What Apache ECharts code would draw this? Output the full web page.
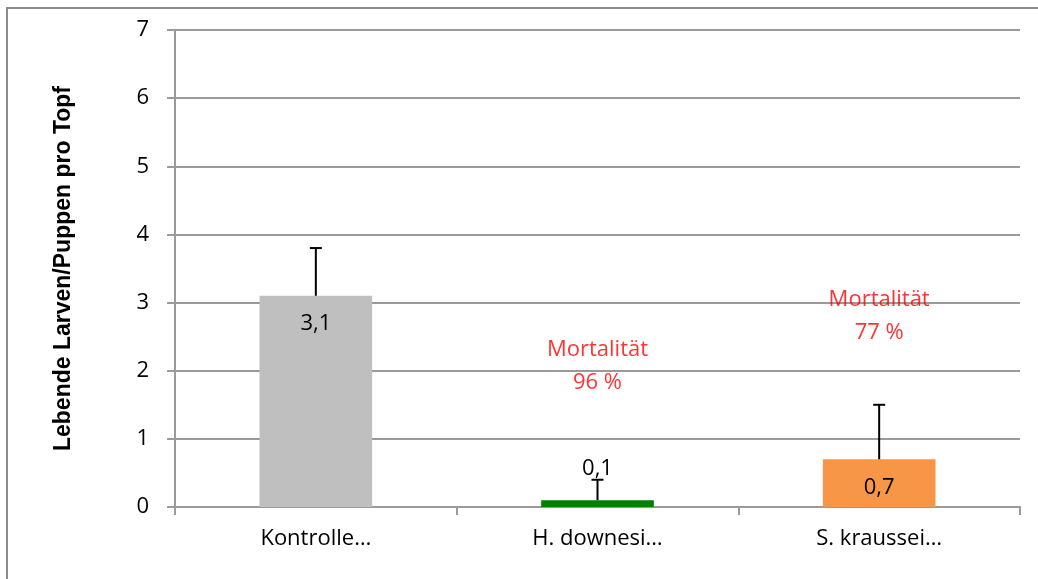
<!DOCTYPE html>
<html>
<head>
    <meta charset="utf-8"/>
    <title>Lebende Larven/Puppen pro Topf</title>
    <script type="text/javascript" src="https://cdn.jsdelivr.net/npm/echarts@6/dist/echarts.min.js"></script>
    <style>
        html, body {
            margin: 0;
            padding: 0;
            background: #fff;
        }

        #chart-container {
            width: 1038px;
            height: 579px;
        }
    </style>
</head>
<body>
<div id="chart-container"></div>

<script type="text/javascript">
    // Daten
    const categories = ['Kontrolle…', 'H. downesi…', 'S. kraussei…'];
    const means = [3.1, 0.1, 0.7];
    const errUpper = [3.8, 0.4, 1.5];
    const barColors = ['#BFBFBF', '#008000', '#F79646'];
    const valueLabels = ['3,1', '0,1', '0,7'];
    const yTicks = [0, 1, 2, 3, 4, 5, 6, 7];

    // Mortalität-Beschriftung
    const annotIndex = [1, 2];
    const annotValue = [2.07, 2.8];
    const annotText = ['Mortalität\n96 %', 'Mortalität\n77 %'];

    const font = '"Open Sans", "DejaVu Sans", sans-serif';
    const gridColor = '#9a9a9a';
    const fs = 22;

    let chart = echarts.init(document.getElementById('chart-container'));

    chart.setOption({
        animation: false,
        textStyle: {fontFamily: font},
        graphic: [{
            type: 'rect',
            shape: {x: 7, y: 8, width: 2000, height: 2000},
            style: {fill: 'none', stroke: '#8c8c8c', lineWidth: 2},
            silent: true
        }],
        grid: {
            left: 175,
            right: 18,
            top: 30,
            bottom: 72
        },
        xAxis: {
            type: 'category',
            data: categories,
            axisLine: {lineStyle: {color: gridColor, width: 2}},
            axisTick: {show: true, length: 8, lineStyle: {color: gridColor, width: 2}},
            axisLabel: {color: '#000', fontSize: fs, margin: 21, fontFamily: font}
        },
        yAxis: {
            type: 'value',
            min: yTicks[0],
            max: yTicks[yTicks.length - 1],
            interval: 1,
            name: 'Lebende Larven/Puppen pro Topf',
            nameLocation: 'middle',
            nameGap: 100,
            nameTextStyle: {
                color: '#000',
                fontSize: 23,
                fontWeight: 'bold',
                fontFamily: '"Liberation Sans", Arial, sans-serif'
            },
            axisLine: {show: true, lineStyle: {color: gridColor, width: 2}},
            axisTick: {show: true, length: 8, lineStyle: {color: gridColor, width: 2}},
            axisLabel: {color: '#000', fontSize: fs, margin: 26, fontFamily: font},
            splitLine: {lineStyle: {color: gridColor, width: 2}}
        },
        series: [
            {
                type: 'bar',
                barWidth: '40%',
                data: means.map(function (v, i) {
                    return {
                        value: v,
                        itemStyle: {color: barColors[i]},
                        label: {
                            position: v < 0.3 ? 'top' : 'insideTop',
                            distance: v < 0.3 ? 20 : 17
                        }
                    };
                }),
                label: {
                    show: true,
                    color: '#000',
                    fontSize: fs,
                    fontFamily: font,
                    formatter: function (p) {
                        return valueLabels[p.dataIndex];
                    }
                }
            },
            {
                // Fehlerbalken (nur nach oben)
                type: 'custom',
                z: 5,
                data: means.map(function (v, i) {
                    return [i, v, errUpper[i]];
                }),
                renderItem: function (params, api) {
                    let base = api.coord([api.value(0), api.value(1)]);
                    let top = api.coord([api.value(0), api.value(2)]);
                    let style = {stroke: '#000', lineWidth: 2};
                    return {
                        type: 'group',
                        children: [
                            {type: 'line', shape: {x1: base[0], y1: base[1], x2: top[0], y2: top[1]}, style: style},
                            {type: 'line', shape: {x1: top[0] - 6, y1: top[1], x2: top[0] + 6, y2: top[1]}, style: style}
                        ]
                    };
                }
            },
            {
                type: 'scatter',
                symbolSize: 0,
                z: 6,
                data: annotIndex.map(function (c, i) {
                    return [c, annotValue[i]];
                }),
                label: {
                    show: true,
                    position: 'inside',
                    color: '#FF0000',
                    fontSize: fs,
                    lineHeight: 33,
                    fontFamily: font,
                    formatter: function (p) {
                        return annotText[p.dataIndex];
                    }
                }
            }
        ]
    });
</script>
</body>
</html>
